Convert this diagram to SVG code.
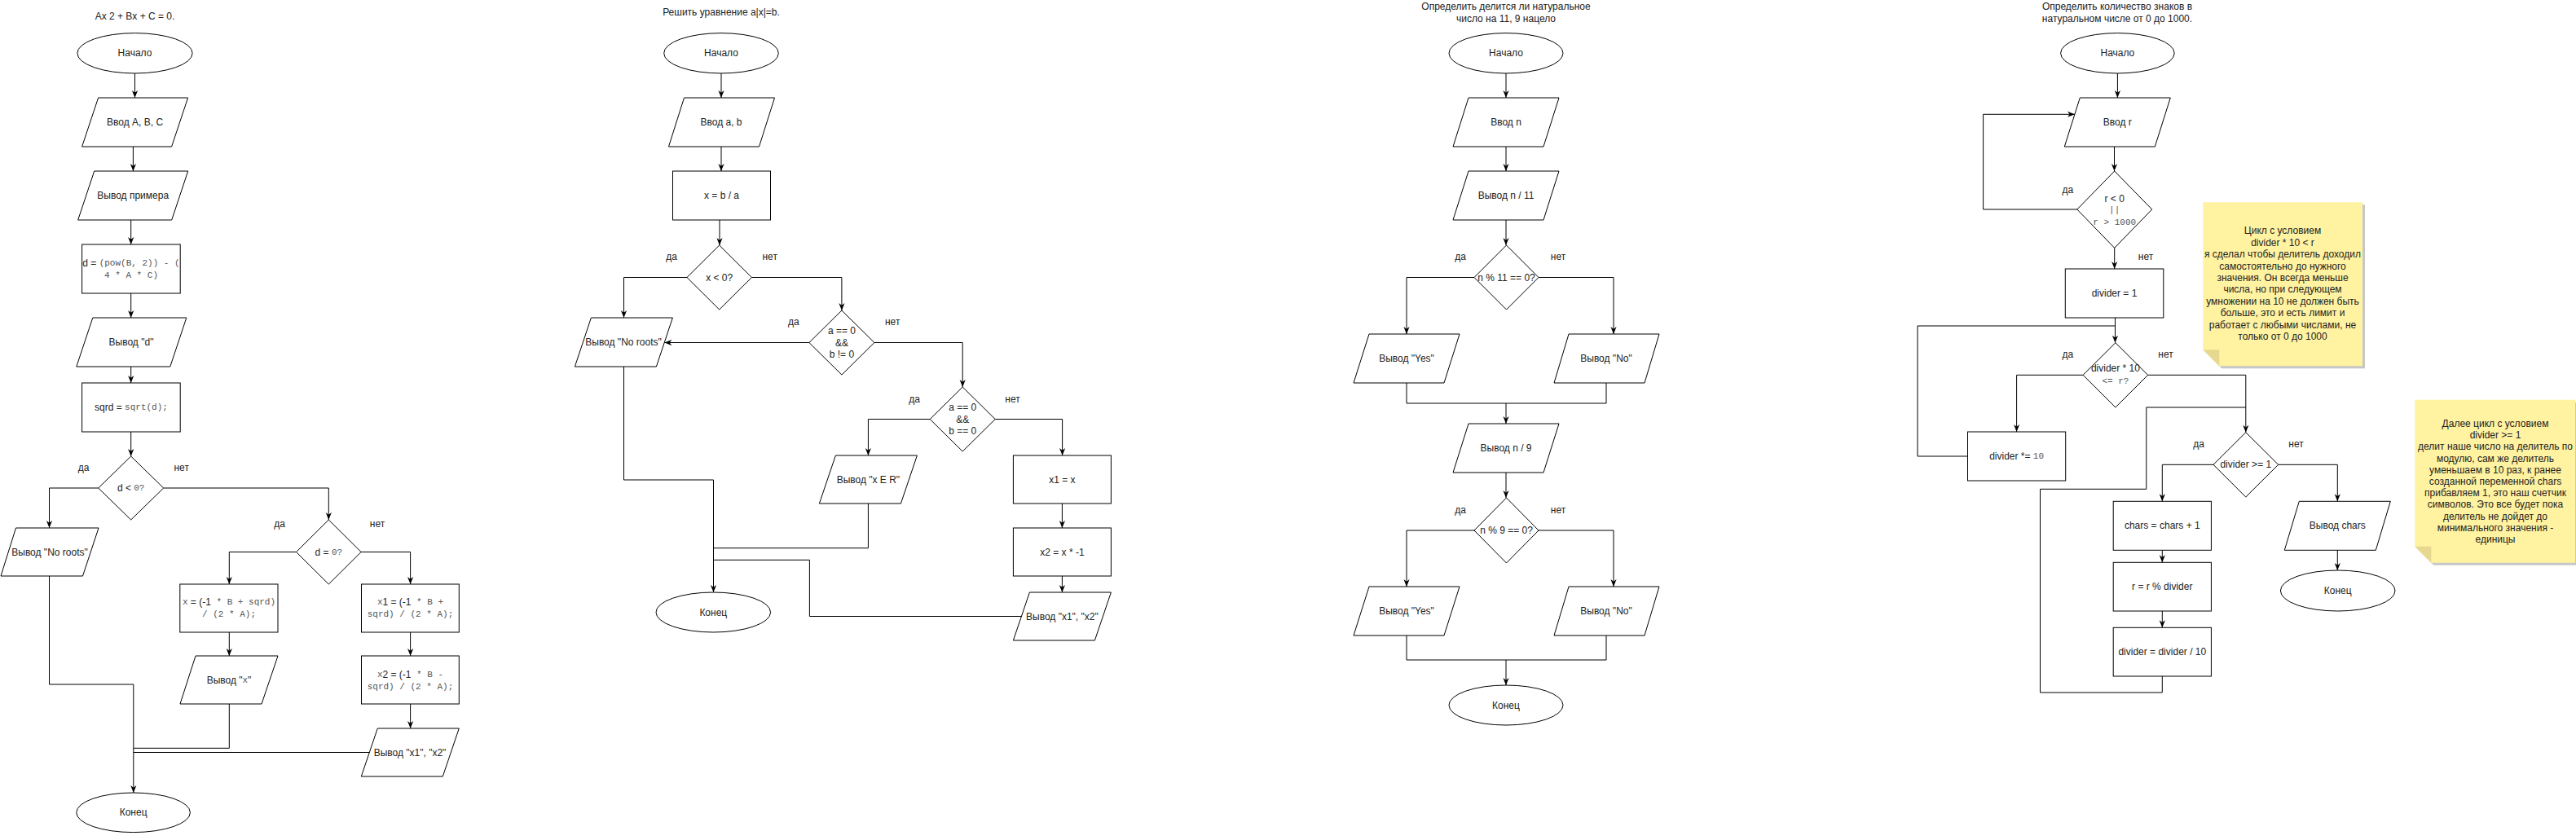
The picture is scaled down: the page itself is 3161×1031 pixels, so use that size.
<svg xmlns="http://www.w3.org/2000/svg" width="3161" height="1031" viewBox="0 0 3161 1031">
<defs>
<style>
.n{fill:#fff;stroke:#000;stroke-width:1}
.c{fill:none;stroke:#000;stroke-width:1}
text{font-family:"Liberation Sans",Arial,sans-serif;font-size:12px;fill:#222;text-anchor:middle;dominant-baseline:central}
.m{font-family:"Liberation Mono","DejaVu Sans Mono",monospace;font-size:11px;fill:#555}
.note{fill:#fff2a1}
.fold{fill:#e6d88f}
.sh{fill:#000;opacity:0.22}
</style>
<marker id="a" viewBox="0 0 10 10" refX="10" refY="5" markerWidth="9" markerHeight="9" markerUnits="userSpaceOnUse" orient="auto"><path d="M0,1 L10,5 L0,9 L3,5 z" fill="#000"/></marker>
</defs>
<rect width="3161" height="1031" fill="#fff"/>

<!-- ===== Flowchart 1 ===== -->
<g id="fc1-title"><text x="165.5" y="20">Ax 2 + Bx + C = 0.</text></g>
<g id="fc1-start"><ellipse class="n" cx="165.5" cy="65.3" rx="70.6" ry="24.7"/><text x="165.5" y="65.3">Начало</text></g>
<g id="fc1-input"><polygon class="n" points="120.6,120 230.6,120 210.6,180 100.6,180"/><text x="165.6" y="150">Ввод A, B, C</text></g>
<g id="fc1-out-example"><polygon class="n" points="115.7,210 230.7,210 210.7,270 95.7,270"/><text x="163.2" y="240">Вывод примера</text></g>
<g id="fc1-d"><rect class="n" x="100.6" y="300" width="120.6" height="60"/><text x="161" y="323">d = <tspan class="m">(pow(B, 2)) - (</tspan></text><text x="161" y="338" class="m">4 * A * C)</text></g>
<g id="fc1-out-d"><polygon class="n" points="113.8,390 228.8,390 208.8,450 93.8,450"/><text x="161" y="420">Вывод "d"</text></g>
<g id="fc1-sqrd"><rect class="n" x="100.6" y="470" width="120.6" height="60"/><text x="161" y="500">sqrd = <tspan class="m">sqrt(d);</tspan></text></g>
<g id="fc1-dec1"><polygon class="n" points="160.7,560 200.7,599 160.7,638 120.7,599"/><text x="160.7" y="599">d &lt; <tspan class="m">0?</tspan></text></g>
<g id="fc1-noroots"><polygon class="n" points="19.5,648 121,648 101.5,707 1,707"/><text x="61" y="677.5">Вывод "No roots"</text></g>
<g id="fc1-dec2"><polygon class="n" points="403.3,638 443.1,677.5 403.3,717 363.5,677.5"/><text x="403.3" y="677.5">d = <tspan class="m">0?</tspan></text></g>
<g id="fc1-x"><rect class="n" x="220.8" y="717" width="120.2" height="59"/><text x="281" y="739"><tspan class="m">x</tspan> = (-1<tspan class="m"> * B + sqrd)</tspan></text><text x="281" y="754" class="m">/ (2 * A);</text></g>
<g id="fc1-out-x"><polygon class="n" points="240,805 341,805 321,864 221,864"/><text x="281" y="834.5">Вывод "<tspan class="m">x</tspan>"</text></g>
<g id="fc1-x1"><rect class="n" x="443.5" y="717" width="119.8" height="59"/><text x="503.5" y="739"><tspan class="m">x</tspan>1 = (-1<tspan class="m"> * B +</tspan></text><text x="503.5" y="754" class="m">sqrd) / (2 * A);</text></g>
<g id="fc1-x2"><rect class="n" x="443.5" y="805" width="119.8" height="59"/><text x="503.5" y="828"><tspan class="m">x</tspan>2 = (-1<tspan class="m"> * B -</tspan></text><text x="503.5" y="843" class="m">sqrd) / (2 * A);</text></g>
<g id="fc1-out-x12"><polygon class="n" points="463.3,894 563.3,894 543.3,953 443.3,953"/><text x="503" y="923.5">Вывод "x1", "x2"</text></g>
<g id="fc1-end"><ellipse class="n" cx="163.6" cy="997.3" rx="69.8" ry="24.3"/><text x="163.6" y="997.3">Конец</text></g>
<g id="fc1-labels"><text x="102.6" y="574">да</text><text x="222.7" y="574">нет</text><text x="343.2" y="643">да</text><text x="463" y="643">нет</text></g>

<!-- ===== Flowchart 2 ===== -->
<g id="fc2-title"><text x="885" y="15">Решить уравнение a|x|=b.</text></g>
<g id="fc2-start"><ellipse class="n" cx="885" cy="65.3" rx="70.3" ry="24.7"/><text x="885" y="65.3">Начало</text></g>
<g id="fc2-input"><polygon class="n" points="839.5,120 950.5,120 931.5,180 820.5,180"/><text x="885" y="150">Ввод a, b</text></g>
<g id="fc2-x"><rect class="n" x="825.5" y="210" width="120" height="60"/><text x="885.5" y="240" fill="#444">x = b / a</text></g>
<g id="fc2-dec1"><polygon class="n" points="882.7,301 922.4,340.5 882.7,380 843,340.5"/><text x="882.7" y="340.5" fill="#444">x &lt; 0?</text></g>
<g id="fc2-noroots"><polygon class="n" points="725.4,390 825.4,390 805.4,450 705.4,450"/><text x="765" y="420">Вывод "No roots"</text></g>
<g id="fc2-dec2"><polygon class="n" points="1032.9,381 1072.9,420.5 1032.9,460 992.9,420.5"/><text x="1032.9" y="406">a == 0</text><text x="1032.9" y="420.5">&amp;&amp;</text><text x="1032.9" y="435">b != 0</text></g>
<g id="fc2-dec3"><polygon class="n" points="1181.2,475 1221.2,514.5 1181.2,554 1141.2,514.5"/><text x="1181.2" y="500">a == 0</text><text x="1181.2" y="514.5">&amp;&amp;</text><text x="1181.2" y="529">b == 0</text></g>
<g id="fc2-xer"><polygon class="n" points="1025.4,559 1125.4,559 1105.4,618 1005.4,618"/><text x="1065.4" y="588.5">Вывод "x E R"</text></g>
<g id="fc2-x1"><rect class="n" x="1243.4" y="559" width="120" height="59"/><text x="1303.4" y="588.5" fill="#444">x1 = x</text></g>
<g id="fc2-x2"><rect class="n" x="1243.4" y="648" width="120" height="59"/><text x="1303.4" y="677.5" fill="#444">x2 = x * -1</text></g>
<g id="fc2-out"><polygon class="n" points="1263.4,727 1363.4,727 1343.4,786 1243.4,786"/><text x="1303.4" y="756.5">Вывод "x1", "x2"</text></g>
<g id="fc2-end"><ellipse class="n" cx="875.3" cy="751.5" rx="70.3" ry="24.5"/><text x="875.3" y="751.5">Конец</text></g>
<g id="fc2-labels"><text x="824.2" y="315">да</text><text x="944.7" y="315">нет</text><text x="973.8" y="395">да</text><text x="1095.2" y="395">нет</text><text x="1122" y="490">да</text><text x="1242.5" y="490">нет</text></g>

<!-- ===== Flowchart 3 ===== -->
<g id="fc3-title"><text x="1848" y="8">Определить делится ли натуральное</text><text x="1848" y="23">число на 11, 9 нацело</text></g>
<g id="fc3-start"><ellipse class="n" cx="1848" cy="65.3" rx="70" ry="24.7"/><text x="1848" y="65.3">Начало</text></g>
<g id="fc3-input"><polygon class="n" points="1802,120 1913,120 1894,180 1783,180"/><text x="1848" y="150">Ввод n</text></g>
<g id="fc3-out11"><polygon class="n" points="1802,210 1913,210 1894,270 1783,270"/><text x="1848" y="240">Вывод n / 11</text></g>
<g id="fc3-dec11"><polygon class="n" points="1848.5,301 1888,340.5 1848.5,380 1809,340.5"/><text x="1848.5" y="340.5">n % 11 == 0?</text></g>
<g id="fc3-yes1"><polygon class="n" points="1680,410 1791,410 1772,470 1661,470"/><text x="1726" y="440">Вывод "Yes"</text></g>
<g id="fc3-no1"><polygon class="n" points="1925,410 2036,410 2018,470 1907,470"/><text x="1971" y="440">Вывод "No"</text></g>
<g id="fc3-out9"><polygon class="n" points="1802,520 1913,520 1894,580 1783,580"/><text x="1848" y="550">Вывод n / 9</text></g>
<g id="fc3-dec9"><polygon class="n" points="1848.5,611 1888,651 1848.5,691 1809,651"/><text x="1848.5" y="651">n % 9 == 0?</text></g>
<g id="fc3-yes2"><polygon class="n" points="1680,720 1791,720 1772,780 1661,780"/><text x="1726" y="750">Вывод "Yes"</text></g>
<g id="fc3-no2"><polygon class="n" points="1925,720 2036,720 2018,780 1907,780"/><text x="1971" y="750">Вывод "No"</text></g>
<g id="fc3-end"><ellipse class="n" cx="1848" cy="865.5" rx="70" ry="24.5"/><text x="1848" y="865.5">Конец</text></g>
<g id="fc3-labels"><text x="1792" y="315">да</text><text x="1912" y="315">нет</text><text x="1792" y="626">да</text><text x="1912" y="626">нет</text></g>

<!-- ===== Flowchart 4 ===== -->
<g id="fc4-title"><text x="2598" y="8">Определить количество знаков в</text><text x="2598" y="23">натуральном числе от 0 до 1000.</text></g>
<g id="fc4-start"><ellipse class="n" cx="2598.4" cy="65.3" rx="69.8" ry="24.7"/><text x="2598.4" y="65.3">Начало</text></g>
<g id="fc4-input"><polygon class="n" points="2552.3,120 2663.3,120 2644.3,180 2533.3,180"/><text x="2598.3" y="150">Ввод r</text></g>
<g id="fc4-dec1"><polygon class="n" points="2594.7,210 2640.7,257 2594.7,304.3 2548.8,257"/><text x="2594.7" y="244">r &lt; 0</text><text x="2594.7" y="258" class="m">||</text><text x="2594.7" y="273" class="m">r &gt; 1000</text></g>
<g id="fc4-div1"><rect class="n" x="2534.3" y="330" width="120.5" height="60"/><text x="2594.5" y="360">divider = 1</text></g>
<g id="fc4-dec2"><polygon class="n" points="2595.9,420.7 2635.7,460.3 2595.9,500 2556.1,460.3"/><text x="2595.9" y="452.3">divider * 10</text><text x="2595.9" y="468.3" class="m">&lt;= r?</text></g>
<g id="fc4-div10"><rect class="n" x="2414.5" y="530" width="120.2" height="60"/><text x="2474.6" y="560">divider *= <tspan class="m">10</tspan></text></g>
<g id="fc4-dec3"><polygon class="n" points="2755.8,530.7 2795.7,570.3 2755.8,610 2716,570.3"/><text x="2755.8" y="570.3">divider &gt;= 1</text></g>
<g id="fc4-chars"><rect class="n" x="2593.2" y="615.3" width="120.2" height="60"/><text x="2653.3" y="645.3" fill="#444">chars = chars + 1</text></g>
<g id="fc4-mod"><rect class="n" x="2593.2" y="690.3" width="120.2" height="59.7"/><text x="2653.3" y="720" fill="#444">r = r % divider</text></g>
<g id="fc4-divd"><rect class="n" x="2593.2" y="770.3" width="120.2" height="59.7"/><text x="2653.3" y="800" fill="#444">divider = divider / 10</text></g>
<g id="fc4-out"><polygon class="n" points="2821.3,615.3 2933.3,615.3 2915.3,675.3 2803.3,675.3"/><text x="2868.3" y="645.3" fill="#444">Вывод chars</text></g>
<g id="fc4-end"><ellipse class="n" cx="2868.7" cy="725" rx="70.3" ry="25"/><text x="2868.7" y="725" fill="#444">Конец</text></g>
<g id="fc4-labels"><text x="2537.4" y="233.3">да</text><text x="2633" y="315">нет</text><text x="2537.4" y="435">да</text><text x="2657.5" y="435">нет</text><text x="2698" y="545">да</text><text x="2817.5" y="545">нет</text></g>

<g id="note1">
<polygon class="sh" points="2706.3,251.3 2902,251.3 2902,452.3 2726.3,452.3 2706.3,432.3"/>
<polygon class="note" points="2703.3,248.3 2899,248.3 2899,449.3 2723.3,449.3 2703.3,429.3"/>
<polygon class="fold" points="2703.3,429.3 2723.3,429.3 2723.3,449.3"/>
<text x="2801" y="283.3"><tspan x="2801" dy="0">Цикл с условием</tspan><tspan x="2801" dy="14.4">divider * 10 &lt; r</tspan><tspan x="2801" dy="14.4">я сделал чтобы делитель доходил</tspan><tspan x="2801" dy="14.4">самостоятельно до нужного</tspan><tspan x="2801" dy="14.4">значения. Он всегда меньше</tspan><tspan x="2801" dy="14.4">числа, но при следующем</tspan><tspan x="2801" dy="14.4">умножении на 10 не должен быть</tspan><tspan x="2801" dy="14.4">больше, это и есть лимит и</tspan><tspan x="2801" dy="14.4">работает с любыми числами, не</tspan><tspan x="2801" dy="14.4">только от 0 до 1000</tspan></text>
</g>
<g id="note2">
<polygon class="sh" points="2966.3,493.7 3163,493.7 3163,693.7 2986.3,693.7 2966.3,673.7"/>
<polygon class="note" points="2963.3,490.7 3160,490.7 3160,690.7 2983.3,690.7 2963.3,670.7"/>
<polygon class="fold" points="2963.3,670.7 2983.3,670.7 2983.3,690.7"/>
<text x="3062" y="520"><tspan x="3062" dy="0">Далее цикл с условием</tspan><tspan x="3062" dy="14.2">divider &gt;= 1</tspan><tspan x="3062" dy="14.2">делит наше число на делитель по</tspan><tspan x="3062" dy="14.2">модулю, сам же делитель</tspan><tspan x="3062" dy="14.2">уменьшаем в 10 раз, к ранее</tspan><tspan x="3062" dy="14.2">созданной переменной chars</tspan><tspan x="3062" dy="14.2">прибавляем 1, это наш счетчик</tspan><tspan x="3062" dy="14.2">символов. Это все будет пока</tspan><tspan x="3062" dy="14.2">делитель не дойдет до</tspan><tspan x="3062" dy="14.2">минимального значения -</tspan><tspan x="3062" dy="14.2">единицы</tspan></text>
</g>

<g id="connectors">
<!-- FC1 -->
<path class="c" d="M165.5,90 V120" marker-end="url(#a)"/>
<path class="c" d="M163.4,180 V210" marker-end="url(#a)"/>
<path class="c" d="M160.7,270 V300" marker-end="url(#a)"/>
<path class="c" d="M160.7,360 V390" marker-end="url(#a)"/>
<path class="c" d="M160.7,450 V470" marker-end="url(#a)"/>
<path class="c" d="M160.7,530 V560" marker-end="url(#a)"/>
<path class="c" d="M120.7,599 H60.5 V648" marker-end="url(#a)"/>
<path class="c" d="M200.7,599 H403.3 V638" marker-end="url(#a)"/>
<path class="c" d="M363.5,677.5 H281.3 V717" marker-end="url(#a)"/>
<path class="c" d="M281.3,776 V805" marker-end="url(#a)"/>
<path class="c" d="M443.1,677.5 H503.6 V717" marker-end="url(#a)"/>
<path class="c" d="M503.6,776 V805" marker-end="url(#a)"/>
<path class="c" d="M503.6,864 V894" marker-end="url(#a)"/>
<path class="c" d="M60.5,707 V840 H163.8 V973" marker-end="url(#a)"/>
<path class="c" d="M281.3,864 V918.3 H163.8"/>
<path class="c" d="M453.3,923.5 H163.8"/>
<!-- FC2 -->
<path class="c" d="M885,90 V120" marker-end="url(#a)"/>
<path class="c" d="M885,180 V210" marker-end="url(#a)"/>
<path class="c" d="M883,270 V301" marker-end="url(#a)"/>
<path class="c" d="M843,340.5 H765.5 V390" marker-end="url(#a)"/>
<path class="c" d="M922.4,340.5 H1032.9 V381" marker-end="url(#a)"/>
<path class="c" d="M992.9,420.5 H815.4" marker-end="url(#a)"/>
<path class="c" d="M1072.9,420.5 H1181.2 V475" marker-end="url(#a)"/>
<path class="c" d="M1141.2,514.5 H1065.4 V559" marker-end="url(#a)"/>
<path class="c" d="M1221.2,514.5 H1303.6 V559" marker-end="url(#a)"/>
<path class="c" d="M1303.4,618 V648" marker-end="url(#a)"/>
<path class="c" d="M1303.4,707 V727" marker-end="url(#a)"/>
<path class="c" d="M765.5,450 V589 H875.5 V727" marker-end="url(#a)"/>
<path class="c" d="M1065.4,618 V672.7 H875.5"/>
<path class="c" d="M1253.4,756.5 H993.4 V687.3 H875.5"/>
<!-- FC3 -->
<path class="c" d="M1848,90 V120" marker-end="url(#a)"/>
<path class="c" d="M1848,180 V210" marker-end="url(#a)"/>
<path class="c" d="M1848,270 V301" marker-end="url(#a)"/>
<path class="c" d="M1809,340.5 H1726 V410" marker-end="url(#a)"/>
<path class="c" d="M1888,340.5 H1980 V410" marker-end="url(#a)"/>
<path class="c" d="M1726,470 V495 H1971 V470"/>
<path class="c" d="M1848,495 V520" marker-end="url(#a)"/>
<path class="c" d="M1848,580 V611" marker-end="url(#a)"/>
<path class="c" d="M1809,651 H1726 V720" marker-end="url(#a)"/>
<path class="c" d="M1888,651 H1980 V720" marker-end="url(#a)"/>
<path class="c" d="M1726,780 V810 H1971 V780"/>
<path class="c" d="M1848,810 V841" marker-end="url(#a)"/>
<!-- FC4 -->
<path class="c" d="M2598.4,90 V120" marker-end="url(#a)"/>
<path class="c" d="M2594.5,180 V210" marker-end="url(#a)"/>
<path class="c" d="M2548.8,257 H2433.6 V140.3 H2545.9" marker-end="url(#a)"/>
<path class="c" d="M2594.7,304.3 V330" marker-end="url(#a)"/>
<path class="c" d="M2595.5,390 V420.7" marker-end="url(#a)"/>
<path class="c" d="M2414.5,560 H2353 V400 H2595.5"/>
<path class="c" d="M2556.1,460.3 H2474.6 V530" marker-end="url(#a)"/>
<path class="c" d="M2635.7,460.3 H2755.8 V530.7" marker-end="url(#a)"/>
<path class="c" d="M2653.3,830 V850 H2503.5 V600.3 H2633.8 V500 H2755.8"/>
<path class="c" d="M2716,570.3 H2653.3 V615.3" marker-end="url(#a)"/>
<path class="c" d="M2653.3,675.3 V690.3" marker-end="url(#a)"/>
<path class="c" d="M2653.3,750 V770.3" marker-end="url(#a)"/>
<path class="c" d="M2795.7,570.3 H2868.3 V615.3" marker-end="url(#a)"/>
<path class="c" d="M2868.3,675.3 V700" marker-end="url(#a)"/>
</g>
</svg>
